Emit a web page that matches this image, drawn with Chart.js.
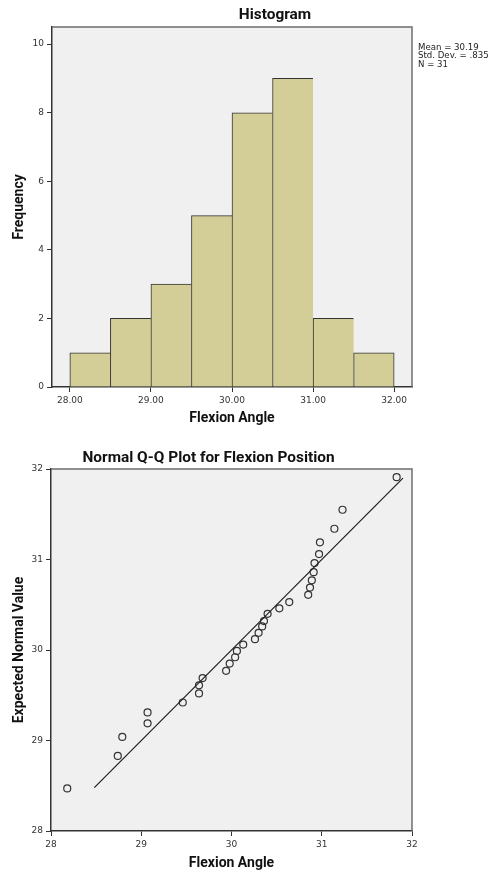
<!DOCTYPE html>
<html>
<head>
<meta charset="utf-8">
<script src="https://cdn.jsdelivr.net/npm/chart.js@4.4.1/dist/chart.umd.min.js"></script>
<style>
  html, body { margin: 0; padding: 0; background: #fff; }
  canvas { display: block; }
</style>
</head>
<body>
<canvas id="histogram" width="492" height="430"></canvas>
<canvas id="qqplot" width="492" height="444"></canvas>
<script>
// histogram of flexion angle
const binEdges = [28.0, 28.5, 29.0, 29.5, 30.0, 30.5, 31.0, 31.5, 32.0];
const binCounts = [1, 2, 3, 5, 8, 9, 2, 1];
const histXTicks = [28, 29, 30, 31, 32];
const histYTicks = [0, 2, 4, 6, 8, 10];
const statLines = ['Mean = 30.19', 'Std. Dev. = .835', 'N = 31'];

// normal Q-Q plot: observed value vs expected normal value
const observed = [28.18, 28.74, 28.79, 29.07, 29.07, 29.46, 29.64, 29.64, 29.68, 29.94, 29.98,
  30.04, 30.06, 30.13, 30.26, 30.30, 30.34, 30.36, 30.40, 30.53, 30.64, 30.85, 30.87,
  30.89, 30.91, 30.92, 30.97, 30.98, 31.14, 31.23, 31.83];
const expected = [28.47, 28.83, 29.04, 29.19, 29.31, 29.42, 29.52, 29.61, 29.69, 29.77, 29.85,
  29.92, 29.99, 30.06, 30.12, 30.19, 30.26, 30.32, 30.40, 30.46, 30.53, 30.61, 30.69,
  30.77, 30.86, 30.96, 31.06, 31.19, 31.34, 31.55, 31.91];
const refLine = [28.48, 31.90];
const qqTicks = [28, 29, 30, 31, 32];

const tickFont = { family: 'DejaVu Sans', size: 9 };
const titleFont = { family: 'Roboto', size: 14, weight: 'bold' };

// plot background, frame, chart title and side notes
function overlay(title, titleX, titleY, notes) {
  return {
    id: 'overlay',
    beforeDraw(chart) {
      const { ctx, chartArea: a } = chart;
      ctx.save();
      ctx.fillStyle = '#f0f0f0';
      ctx.fillRect(a.left, a.top, a.right - a.left, a.bottom - a.top);
      ctx.restore();
    },
    afterDraw(chart) {
      const { ctx, chartArea: a } = chart;
      ctx.save();
      ctx.strokeStyle = '#6e6e6e';
      ctx.lineWidth = 1.5;
      ctx.beginPath();
      ctx.moveTo(a.left, a.top);
      ctx.lineTo(a.right, a.top);
      ctx.lineTo(a.right, a.bottom);
      ctx.stroke();
      ctx.fillStyle = '#111';
      ctx.font = 'bold 15.4px Roboto';
      ctx.textAlign = 'center';
      ctx.textBaseline = 'middle';
      ctx.fillText(title, titleX, titleY);
      if (notes) {
        ctx.font = '8.6px "DejaVu Sans"';
        ctx.textAlign = 'left';
        ctx.fillStyle = '#222';
        notes.forEach((t, i) => ctx.fillText(t, a.right + 6, 48 + i * 8.2));
      }
      ctx.restore();
    }
  };
}

function axis(min, max, ticks, fmt, titleText, titlePad, size, horizontal) {
  return {
    type: 'linear',
    min: min,
    max: max,
    offset: false,
    afterBuildTicks: s => { s.ticks = ticks.map(v => ({ value: v })); },
    afterFit: s => { if (horizontal) s.height = size; else s.width = size; },
    grid: { drawOnChartArea: false, offset: false, tickLength: 5, color: '#333', lineWidth: 1 },
    border: { color: '#333', width: 1.5 },
    ticks: { font: tickFont, color: '#333', padding: 3, maxRotation: 0, autoSkip: false, callback: fmt },
    title: { display: true, text: titleText, font: titleFont, color: '#111', padding: titlePad }
  };
}

new Chart(document.getElementById('histogram'), {
  type: 'bar',
  data: {
    datasets: [{
      data: binCounts.map((c, i) => ({ x: (binEdges[i] + binEdges[i + 1]) / 2, y: c })),
      backgroundColor: '#d3ce97',
      borderColor: '#333',
      borderWidth: ctx => ({ top: 1, left: 1, bottom: 0, right: ctx.dataIndex === binCounts.length - 1 ? 1 : 0 }),
      borderSkipped: false,
      barPercentage: 1,
      categoryPercentage: 1
    }]
  },
  options: {
    responsive: false,
    animation: false,
    layout: { padding: { top: 27, right: 80, left: 0, bottom: 0 } },
    plugins: { legend: { display: false }, tooltip: { enabled: false } },
    scales: {
      x: axis(27.78, 32.22, histXTicks, v => v.toFixed(2), 'Flexion Angle', { top: 0, bottom: 3.6 }, 43, true),
      y: axis(0, 10.5, histYTicks, v => String(v), 'Frequency', { top: 10.6, bottom: 0 }, 52, false)
    }
  },
  plugins: [overlay('Histogram', 275, 15.5, statLines)]
});

new Chart(document.getElementById('qqplot'), {
  type: 'scatter',
  data: {
    datasets: [{
      type: 'line',
      data: refLine.map(v => ({ x: v, y: v })),
      borderColor: '#1e1e1e',
      borderWidth: 1.2,
      pointRadius: 0
    }, {
      data: observed.map((v, i) => ({ x: v, y: expected[i] })),
      pointRadius: 3.5,
      pointBackgroundColor: 'rgba(0,0,0,0)',
      pointBorderColor: '#333',
      pointBorderWidth: 1.2
    }]
  },
  options: {
    responsive: false,
    animation: false,
    layout: { padding: { top: 39, right: 80, left: 0, bottom: 0 } },
    plugins: { legend: { display: false }, tooltip: { enabled: false } },
    scales: {
      x: axis(28, 32, qqTicks, v => String(v), 'Flexion Angle', { top: 0, bottom: 2.6 }, 43, true),
      y: axis(28, 32, qqTicks, v => String(v), 'Expected Normal Value', { top: 10.6, bottom: 0 }, 51, false)
    }
  },
  plugins: [overlay('Normal Q-Q Plot for Flexion Position', 208.5, 28, null)]
});
</script>
</body>
</html>
